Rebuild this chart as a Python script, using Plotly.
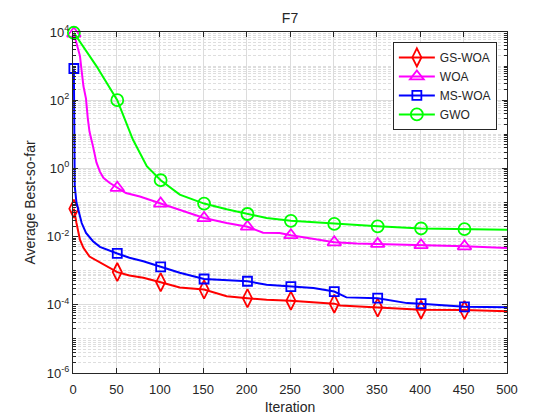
import plotly.graph_objects as go

# convergence curves (iteration, average best-so-far)
gs_woa_iter = [1, 2, 4, 8, 12, 19, 27, 38, 51, 65, 81, 101, 123, 151, 177, 201,
               223, 251, 277, 301, 308, 351, 365, 401, 451, 500]
gs_woa_val = [0.066, 0.045, 0.025, 0.0081, 0.0047, 0.0026, 0.0020, 0.0014, 0.00091,
              0.00072, 0.00062, 0.00046, 0.00032, 0.00028, 0.000178, 0.000156,
              0.00014, 0.000132, 0.000117, 0.000108, 0.000095, 0.000083, 0.00008,
              0.000072, 0.00007, 0.000065]

woa_iter = [1, 5, 8, 12, 15, 17, 19, 23, 27, 31, 35, 42, 51, 61, 77, 101, 125, 151,
            177, 201, 219, 238, 251, 277, 301, 327, 351, 401, 451, 500]
woa_val = [9000, 3500, 2000, 260, 110, 30, 12, 4.5, 1.5, 0.8, 0.53, 0.38, 0.27, 0.19,
           0.15, 0.093, 0.058, 0.035, 0.025, 0.0195, 0.013, 0.0128, 0.011, 0.0085,
           0.0068, 0.0063, 0.0061, 0.0056, 0.0052, 0.0046]

ms_woa_iter = [1, 2, 4, 6, 10, 15, 23, 31, 38, 51, 65, 81, 101, 123, 151, 177, 201,
               223, 251, 277, 301, 315, 351, 385, 401, 451, 500]
ms_woa_val = [850, 0.3, 0.1, 0.063, 0.025, 0.0128, 0.0073, 0.005, 0.0042, 0.0032,
              0.0024, 0.0019, 0.0013, 0.00087, 0.00057, 0.00052, 0.00049, 0.00039,
              0.00034, 0.00031, 0.000245, 0.000165, 0.000156, 0.000112, 0.000108,
              0.000087, 0.000085]

gwo_iter = [1, 27, 51, 58, 69, 85, 101, 123, 151, 177, 201, 223, 251, 301, 351,
            401, 451, 500]
gwo_val = [9500, 1000, 100, 34, 7, 1.16, 0.45, 0.17, 0.093, 0.063, 0.046, 0.035,
           0.029, 0.0236, 0.020, 0.0173, 0.0165, 0.016]

marker_iters = [1, 51, 101, 151, 201, 251, 301, 351, 401, 451]

y_tick_vals = [1e-6, 1e-4, 1e-2, 1e0, 1e2, 1e4]
y_tick_text = ["10<sup>-6</sup>", "10<sup>-4</sup>", "10<sup>-2</sup>",
               "10<sup>0</sup>", "10<sup>2</sup>", "10<sup>4</sup>"]

series = [
    ("GS-WOA", gs_woa_iter, gs_woa_val, "#ff0000", "diamond-tall-open", 13),
    ("WOA", woa_iter, woa_val, "#ff00ff", "triangle-up-open", 12),
    ("MS-WOA", ms_woa_iter, ms_woa_val, "#0000ff", "square-open", 9),
    ("GWO", gwo_iter, gwo_val, "#00ff00", "circle-open", 12),
]

fig = go.Figure()
for name, xs, ys, color, symbol, size in series:
    fig.add_trace(go.Scatter(x=xs, y=ys, mode="lines", showlegend=False,
                             line=dict(color=color, width=2)))
    mx = [x for x in xs if x in marker_iters]
    my = [y for x, y in zip(xs, ys) if x in marker_iters]
    fig.add_trace(go.Scatter(x=mx, y=my, mode="markers", showlegend=False,
                             cliponaxis=False,
                             marker=dict(symbol=symbol, size=size, color=color,
                                         line=dict(color=color, width=1.8))))
    # legend entry with line and marker together
    fig.add_trace(go.Scatter(x=[None], y=[None], mode="lines+markers", name=name,
                             line=dict(color=color, width=2),
                             marker=dict(symbol=symbol, size=size, color=color,
                                         line=dict(color=color, width=1.8))))

# minor log ticks (2..9 of every decade, and the odd decades)
minor_vals = []
for e in range(-6, 4):
    for k in range(1, 10):
        v = k * 10.0 ** e
        if k == 1 and e % 2 == 0:
            continue
        minor_vals.append(v)

axis_col = "#262626"
fig.update_xaxes(range=[0, 500], dtick=50, tick0=0, showgrid=True, gridcolor="#dcdcdc",
                 gridwidth=1, zeroline=False, showline=True, linecolor=axis_col,
                 linewidth=1, mirror="ticks", ticks="inside", ticklen=5,
                 tickcolor=axis_col, ticklabelstandoff=4, automargin=False,
                 tickfont=dict(size=13, color=axis_col),
                 title=dict(text="Iteration", font=dict(size=14, color=axis_col),
                            standoff=6))
fig.update_yaxes(type="log", range=[-6, 4], tickvals=y_tick_vals, ticktext=y_tick_text,
                 showgrid=True, gridcolor="#dcdcdc", gridwidth=1, zeroline=False,
                 showline=True, linecolor=axis_col, linewidth=1, mirror="ticks",
                 ticks="inside", ticklen=5, tickcolor=axis_col, automargin=False,
                 tickfont=dict(size=13, color=axis_col),
                 minor=dict(tickvals=minor_vals, showgrid=True, gridcolor="#dedede",
                            griddash="3px,2px", ticks="inside", ticklen=3,
                            tickcolor=axis_col),
                 title=dict(text="Average Best-so-far",
                            font=dict(size=14, color=axis_col), standoff=7))

# the page body adds an 8px offset, so the figure is a bit smaller than the window
fig.update_layout(
    width=552, height=412,
    margin=dict(l=65, r=53, t=24, b=47),
    paper_bgcolor="white", plot_bgcolor="white",
    font=dict(family="Liberation Sans, Arial, sans-serif", color=axis_col),
    title=dict(text="F7", x=0.5, xref="paper", y=(412 - 10.5) / 412, yanchor="middle",
               font=dict(size=14, color=axis_col)),
    legend=dict(x=0.737, y=0.971, xanchor="left", yanchor="top", bgcolor="white",
                bordercolor=axis_col, borderwidth=1, font=dict(size=12),
                itemwidth=36, tracegroupgap=0),
    showlegend=True,
)

fig.write_html("out.html")
